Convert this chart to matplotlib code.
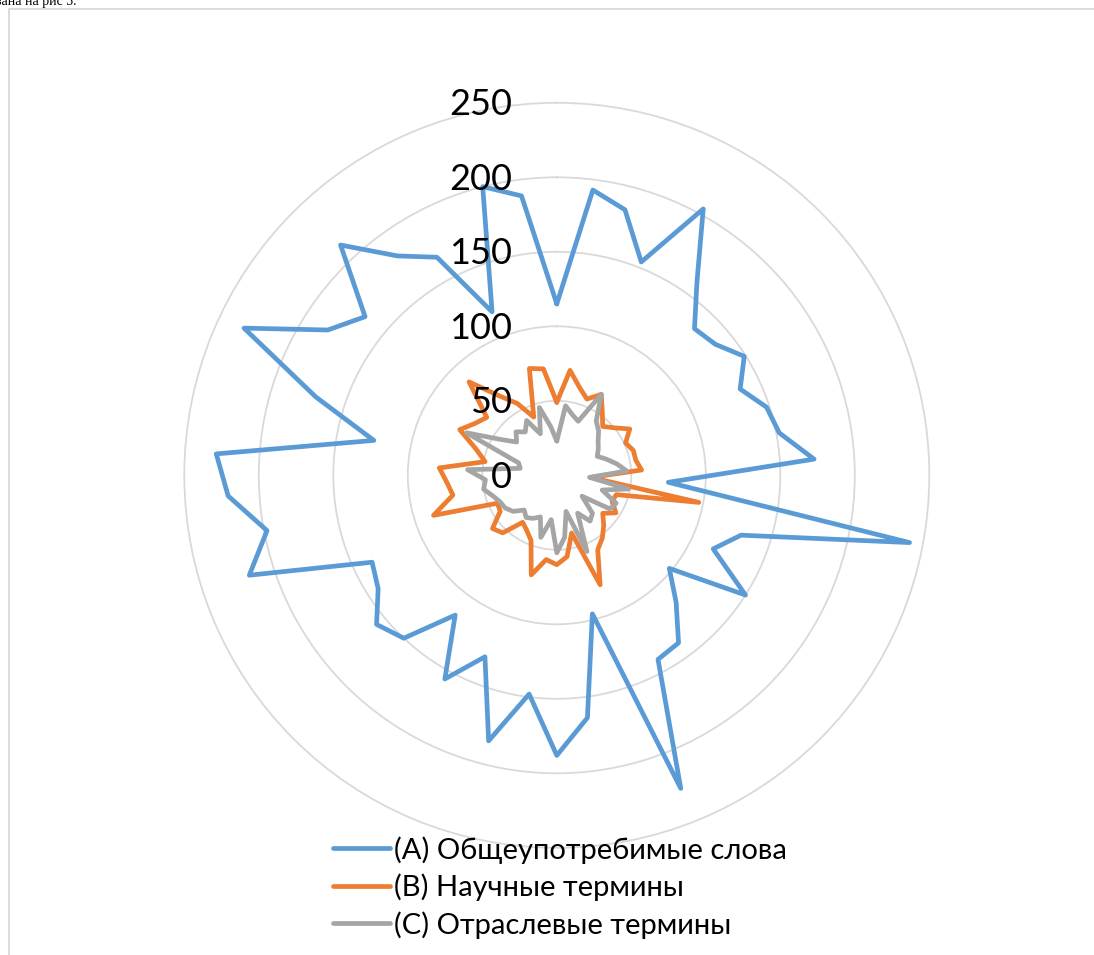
import numpy as np
import matplotlib.pyplot as plt
from matplotlib.patches import Rectangle
from matplotlib.transforms import ScaledTranslation

# значения по 50 категориям (по часовой стрелке, начиная сверху)
common_words = [115, 193, 184, 154, 204, 160, 135, 138, 149, 136,
                148, 152, 173, 75, 241, 130, 116, 150, 98, 117,
                139, 141, 226, 96, 164, 188, 148, 184, 131, 156,
                116, 150, 157, 142, 137, 217, 198, 221, 229, 125,
                170, 232, 182, 167, 212, 182, 167, 118, 200, 189]
science_terms = [49, 71, 61, 55, 62, 52, 45, 50, 58, 51,
                 54, 54, 57, 23, 97, 42, 41, 47, 40, 46,
                 52, 57, 79, 40, 55, 60, 57, 69, 47, 42,
                 39, 53, 56, 45, 44, 87, 71, 74, 79, 49,
                 57, 72, 65, 61, 86, 66, 55, 42, 74, 72]
branch_terms = [23, 47, 42, 39, 62, 45, 41, 36, 33, 30,
                35, 41, 47, 22, 49, 32, 44, 42, 22, 35,
                38, 29, 55, 25, 42, 52, 30, 43, 30, 33,
                35, 32, 38, 41, 42, 45, 50, 48, 60, 25,
                27, 67, 45, 35, 40, 36, 42, 30, 47, 33]
series_names = ['(A) Общеупотребимые слова', '(B) Научные термины', '(C) Отраслевые термины']
series_colors = ['#5B9BD5', '#ED7D31', '#A5A5A5']
rings = [0, 50, 100, 150, 200, 250]

W, H = 1094, 955
cx, cy, R = 556.8, 475.3, 372.5

fig = plt.figure(figsize=(W / 100, H / 100), dpi=100)
fig.patch.set_facecolor('white')

# рамка области диаграммы
fig.add_artist(Rectangle((8.5 / W, -0.1), 1.2, 1.1 - 9.5 / H, transform=fig.transFigure,
                         fill=False, edgecolor='#d9d9d9', linewidth=1.3))
# хвост строки текста над диаграммой
fig.text(76 / W, 1 - 5.5 / H, 'зана на рис 3.', ha='right', va='baseline',
         fontsize=10, family='Liberation Serif', color='black')

ax = fig.add_axes([(cx - R) / W, 1 - (cy + R) / H, 2 * R / W, 2 * R / H], projection='polar')
ax.set_theta_zero_location('N')
ax.set_theta_direction(-1)

n = len(common_words)
theta = np.linspace(0, 2 * np.pi, n, endpoint=False)
theta = np.append(theta, theta[0])

lines = []
for vals, name, col in zip([common_words, science_terms, branch_terms], series_names, series_colors):
    v = np.append(vals, vals[0])
    ln, = ax.plot(theta, v, color=col, linewidth=3.4, label=name,
                  solid_joinstyle='round', solid_capstyle='round', zorder=3)
    lines.append(ln)

ax.set_ylim(0, 250)
ax.set_yticks(rings[1:])
ax.set_yticklabels([])
ax.set_xticks([])
ax.yaxis.grid(True, color='#d9d9d9', linewidth=1.3)
for gl in ax.yaxis.get_gridlines():
    gl.set_clip_on(False)
ax.spines['polar'].set_visible(False)

# подписи радиальной оси
shift = ScaledTranslation(-0.45, -0.02, fig.dpi_scale_trans)
for r in rings:
    ax.text(0, r, str(r), transform=ax.transData + shift, ha='right', va='center',
            fontsize=26, family='Lato', color='black', zorder=5)

leg = fig.legend(handles=lines, loc='upper left', bbox_to_anchor=(333 / W, 1 - 836 / H),
                 frameon=False, prop={'family': 'Lato', 'size': 21},
                 handlelength=1.95, handletextpad=0.15, labelspacing=0.34,
                 borderaxespad=0, borderpad=0)
for h in leg.get_lines():
    h.set_linewidth(3.4)
    h.set_solid_capstyle('round')

fig.savefig('out.png', dpi=100)
